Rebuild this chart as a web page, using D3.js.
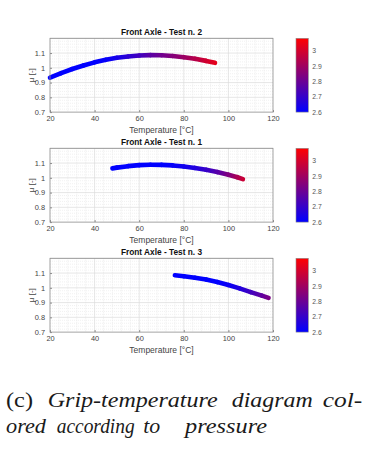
<!DOCTYPE html>
<html><head><meta charset="utf-8">
<script src="https://cdn.jsdelivr.net/npm/d3@7"></script>
<style>body{margin:0;background:#fff}svg{display:block}</style>
</head><body>
<script>
// ---- data ----
const titles = ["Front Axle - Test n. 2", "Front Axle - Test n. 1", "Front Axle - Test n. 3"];
const xTicks = [20, 40, 60, 80, 100, 120];
const yTicks = [0.7, 0.8, 0.9, 1, 1.1];
const cTicks = [2.6, 2.7, 2.8, 2.9, 3];

const test2T = [20, 25, 30, 35, 40, 45, 50, 55, 60, 65, 70, 75, 80, 85, 90, 94];
const test2Mu = [0.934, 0.964, 0.992, 1.016, 1.037, 1.054, 1.068, 1.077, 1.083, 1.086, 1.085, 1.080, 1.072, 1.061, 1.047, 1.034];
const test2P = [2.60, 2.60, 2.60, 2.60, 2.60, 2.61, 2.64, 2.68, 2.72, 2.77, 2.81, 2.85, 2.89, 2.94, 2.99, 3.03];

const test1T = [48, 50, 55, 60, 65, 70, 75, 80, 85, 90, 95, 100, 104, 106.5];
const test1Mu = [1.064, 1.069, 1.079, 1.086, 1.089, 1.088, 1.084, 1.077, 1.067, 1.054, 1.039, 1.021, 1.004, 0.991];
const test1P = [2.60, 2.60, 2.60, 2.60, 2.60, 2.60, 2.61, 2.63, 2.66, 2.70, 2.76, 2.84, 2.92, 2.98];

const test3T = [76, 80, 85, 90, 95, 100, 105, 110, 115, 118];
const test3Mu = [1.085, 1.078, 1.068, 1.056, 1.039, 1.019, 0.996, 0.971, 0.947, 0.932];
const test3P = [2.60, 2.60, 2.60, 2.60, 2.60, 2.62, 2.66, 2.72, 2.78, 2.83];

const panels = [
  {title: titles[0], T: test2T, mu: test2Mu, p: test2P},
  {title: titles[1], T: test1T, mu: test1Mu, p: test1P},
  {title: titles[2], T: test3T, mu: test3Mu, p: test3P}
];

// ---- layout ----
const W = 382, H = 455;
const svg = d3.select("body").append("svg").attr("width", W).attr("height", H);
const defs = svg.append("defs");
const tops = [38.3, 148.3, 258.3];
const axL = 50, axR = 273, axH = 73.8;
const cbL = 296, cbW = 12.3;
const cMin = 2.6, cMax = 3.08;
const cmap = d3.interpolateRgb("#0000ff", "#ff0000");
const colorOf = v => cmap(Math.max(0, Math.min(1, (v - cMin) / (cMax - cMin))));
const font = "'Liberation Sans', Arial, sans-serif";

// colorbar gradient
const cg = defs.append("linearGradient").attr("id", "cbar").attr("x1", 0).attr("y1", 1).attr("x2", 0).attr("y2", 0);
cg.append("stop").attr("offset", 0).attr("stop-color", "#0000ff");
cg.append("stop").attr("offset", 1).attr("stop-color", "#ff0000");

panels.forEach((pn, k) => {
  const top = tops[k], bot = top + axH;
  const x = d3.scaleLinear().domain([20, 120]).range([axL, axR]);
  const y = d3.scaleLinear().domain([0.7, 1.2]).range([bot, top]);
  const g = svg.append("g");

  g.append("rect").attr("x", axL).attr("y", top).attr("width", axR - axL).attr("height", axH).attr("fill", "#fff");

  // minor grid
  const xMinor = d3.range(20, 120.01, 4).filter(v => v % 20 !== 0);
  const yMinor = d3.range(0.72, 1.2, 0.02).filter(v => Math.abs(v * 10 - Math.round(v * 10)) > 1e-6);
  g.selectAll(".xm").data(xMinor).join("line")
    .attr("x1", d => x(d)).attr("x2", d => x(d)).attr("y1", top).attr("y2", bot)
    .attr("stroke", "#e4e4e4").attr("stroke-width", 0.6).attr("stroke-dasharray", "1,1");
  g.selectAll(".ym").data(yMinor).join("line")
    .attr("y1", d => y(d)).attr("y2", d => y(d)).attr("x1", axL).attr("x2", axR)
    .attr("stroke", "#e8e8e8").attr("stroke-width", 0.6).attr("stroke-dasharray", "1,1");
  // major grid
  g.selectAll(".xg").data(xTicks.slice(1, -1)).join("line")
    .attr("x1", d => x(d)).attr("x2", d => x(d)).attr("y1", top).attr("y2", bot)
    .attr("stroke", "#dcdcdc").attr("stroke-width", 0.7);
  g.selectAll(".yg").data(yTicks.slice(1).concat([1.2])).join("line")
    .attr("y1", d => y(d)).attr("y2", d => y(d)).attr("x1", axL).attr("x2", axR)
    .attr("stroke", "#dcdcdc").attr("stroke-width", 0.7);

  // data: colored segments
  const pts = pn.T.map((t, i) => ({x: x(t), y: y(pn.mu[i]), c: colorOf(pn.p[i])}));
  for (let i = 0; i < pts.length - 1; i++) {
    const a = pts[i], b = pts[i + 1];
    const id = `seg${k}_${i}`;
    const lg = defs.append("linearGradient").attr("id", id).attr("gradientUnits", "userSpaceOnUse")
      .attr("x1", a.x).attr("y1", a.y).attr("x2", b.x).attr("y2", b.y);
    lg.append("stop").attr("offset", 0).attr("stop-color", a.c);
    lg.append("stop").attr("offset", 1).attr("stop-color", b.c);
    g.append("line").attr("x1", a.x).attr("y1", a.y).attr("x2", b.x).attr("y2", b.y)
      .attr("stroke", `url(#${id})`).attr("stroke-width", 4.6).attr("stroke-linecap", "round");
  }

  // axes box
  g.append("rect").attr("x", axL).attr("y", top).attr("width", axR - axL).attr("height", axH)
    .attr("fill", "none").attr("stroke", "#8c8c8c").attr("stroke-width", 0.8);

  // x axis
  const xa = g.append("g").attr("transform", `translate(0,${bot})`)
    .call(d3.axisBottom(x).tickValues(xTicks).tickSize(-2).tickPadding(4).tickFormat(d3.format("d")));
  xa.select(".domain").remove();
  xa.selectAll("line").attr("stroke", "#8c8c8c");
  xa.selectAll("text").attr("font-family", font).attr("font-size", 7.4).attr("fill", "#444");
  // y axis
  const ya = g.append("g").attr("transform", `translate(${axL},0)`)
    .call(d3.axisLeft(y).tickValues(yTicks).tickSize(-2).tickPadding(5).tickFormat(d => d3.format("")(d)));
  ya.select(".domain").remove();
  ya.selectAll("line").attr("stroke", "#8c8c8c");
  ya.selectAll("text").attr("font-family", font).attr("font-size", 7.4).attr("fill", "#444");

  // labels
  g.append("text").attr("x", (axL + axR) / 2).attr("y", top - 3.5).attr("text-anchor", "middle")
    .attr("font-family", font).attr("font-size", 8.3).attr("font-weight", "bold").attr("fill", "#111").text(pn.title);
  g.append("text").attr("x", (axL + axR) / 2).attr("y", bot + 21).attr("text-anchor", "middle")
    .attr("font-family", font).attr("font-size", 8.5).attr("fill", "#444").text("Temperature [°C]");
  g.append("text").attr("transform", `translate(34,${(top + bot) / 2}) rotate(-90)`).attr("text-anchor", "middle")
    .attr("font-family", font).attr("font-size", 8).attr("fill", "#444").text("μ [-]");

  // colorbar
  const cy = d3.scaleLinear().domain([cMin, cMax]).range([bot, top]);
  g.append("rect").attr("x", cbL).attr("y", top).attr("width", cbW).attr("height", axH)
    .attr("fill", "url(#cbar)").attr("stroke", "#8c8c8c").attr("stroke-width", 0.6);
  const ca = g.append("g").attr("transform", `translate(${cbL + cbW},0)`)
    .call(d3.axisRight(cy).tickValues(cTicks).tickSize(0).tickPadding(4).tickFormat(d => d3.format("")(d)));
  ca.select(".domain").remove();
  ca.selectAll("text").attr("font-family", font).attr("font-size", 6.8).attr("fill", "#555");
});

// ---- caption ----
const serif = "'Liberation Serif', 'DejaVu Serif', serif";
const cap = svg.append("g").attr("font-family", serif).attr("fill", "#1a1a1a");
const line1 = [{t: "(c)", x: 6, w: 27, it: false}, {t: "Grip-temperature", x: 47.7, w: 170, it: true},
               {t: "diagram", x: 231.7, w: 81, it: true}, {t: "col-", x: 322.7, w: 39.5, it: true}];
const line2 = [{t: "ored", x: 6, w: 40, it: true}, {t: "according", x: 56.7, w: 78, it: true},
               {t: "to", x: 143.3, w: 17, it: true}, {t: "pressure", x: 185, w: 82, it: true}];
[[line1, 406.5], [line2, 433]].forEach(([ws, by]) => {
  ws.forEach(w => cap.append("text").attr("x", w.x).attr("y", by).attr("font-size", 20.5)
    .attr("font-style", w.it ? "italic" : "normal")
    .attr("textLength", w.w).attr("lengthAdjust", "spacingAndGlyphs").text(w.t));
});
</script>
</body></html>
